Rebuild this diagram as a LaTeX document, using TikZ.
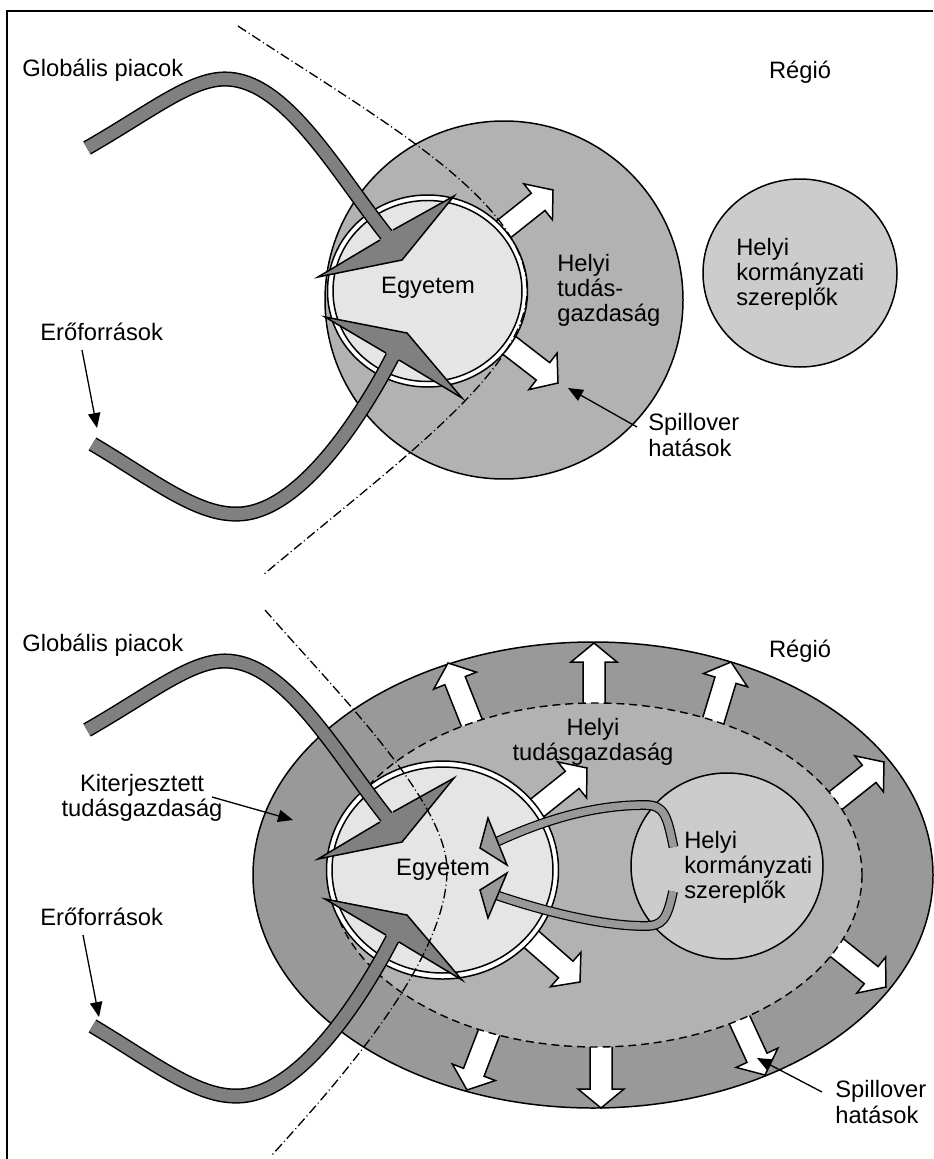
\documentclass[tikz,border=0pt]{standalone}
\usepackage{fontspec}
\setmainfont{Liberation Sans}
\usetikzlibrary{arrows.meta,calc}

\definecolor{regionfill}{gray}{0.70}
\definecolor{outerfill}{gray}{0.60}
\definecolor{innerfill}{gray}{0.70}
\definecolor{govfill}{gray}{0.80}
\definecolor{unifill}{gray}{0.90}
\definecolor{flowfill}{gray}{0.50}
\definecolor{linkfill}{gray}{0.60}

% white block arrow: tip x, tip y, direction angle, total length
\newcommand\spillarrow[4]{%
  \begin{scope}[shift={(#1,#2)}, rotate=#3]
    \draw[spill] (0,0) -- (-19,-23) -- (-19,-11) -- (-#4,-11) -- (-#4,11)
      -- (-19,11) -- (-19,23) -- cycle;
  \end{scope}}

% the two inflow arrows (global markets, resources)
\newcommand\flowarrows{%
  \draw[flowband] (87,148) .. controls (150,112) and (190,79) .. (225,79)
    .. controls (285,79) and (335,170) .. (386.5,235);
  \fill[flowfill] (380,240) -- (318,277) -- (402,260) -- (454,196) -- (393,230) -- cycle;
  \draw[outline] (380,240) -- (318,277) -- (402,260) -- (454,196) -- (393,230);
  \draw[flowband] (92.5,444) .. controls (150,478) and (195,514) .. (235,514)
    .. controls (300,516) and (365,410) .. (392.5,356.5);
  \fill[flowfill] (386,353) -- (325,317) -- (407,333) -- (462,398) -- (399,360) -- cycle;
  \draw[outline] (386,353) -- (325,317) -- (407,333) -- (462,398) -- (399,360);
}

\begin{document}
\begin{tikzpicture}[x=0.02cm, y=-0.02cm,
  txt/.style={inner sep=0pt, font=\fontsize{13.5}{14.4}\selectfont},
  outline/.style={draw=black, line width=0.85pt, line join=miter},
  spill/.style={draw=black, fill=white, line width=0.85pt, line join=miter},
  flowband/.style={draw=black, line width=0.85pt, double=flowfill, double distance=6.9pt},
  linkband/.style={draw=black, line width=0.7pt, double=linkfill, double distance=4.2pt},
  pointer/.style={line width=0.75pt, -{Triangle[length=8.5pt,width=7pt]}},
  boundary/.style={line width=0.75pt, dash pattern=on 5.5pt off 1.8pt on 0.6pt off 1.8pt},
]
\useasboundingbox (0,0) rectangle (933,1159);

% ---------------- upper panel ----------------
\draw[outline, fill=regionfill] (504,300) circle [radius=179];
\draw[outline, fill=govfill] (800,273) ellipse [x radius=97, y radius=94];

\spillarrow{553}{190}{38.5}{90}
\spillarrow{558}{383}{-37.7}{90}

\draw[outline, fill=white] (427.5,291) ellipse [x radius=100, y radius=96];
\draw[outline, fill=unifill] (427.5,291) ellipse [x radius=94.5, y radius=90.5];

\flowarrows

\draw[boundary] (238,26) .. controls (380,120) and (527,200) .. (527,290)
  .. controls (527,370) and (400,460) .. (263,575);

\node[txt, anchor=west] (glob1) at (22,70) {Globális piacok};
\node[txt] (reg1) at (800,72) {Régió};
\node[txt] (uni1) at (428,288) {Egyetem};
\node[txt, anchor=west, align=left] (local1) at (557,290.5) {Helyi\\tudás-\\gazdaság};
\node[txt, anchor=west, align=left] (gov1) at (736,274.5) {Helyi\\kormányzati\\szereplők};
\node[txt, anchor=west] (res1) at (40,332) {Erőforrások};
\node[txt, anchor=west, align=left] (spl1) at (648,435) {Spillover\\hatások};

\coordinate (res1from) at (82,350);
\coordinate (res1to) at (97,428);
\draw[pointer] (res1from) -- (res1to);
\coordinate (spl1from) at (637,427);
\coordinate (spl1to) at (568,388);
\draw[pointer] (spl1from) -- (spl1to);

% ---------------- lower panel ----------------
\draw[outline, fill=outerfill] (593,875) ellipse [x radius=340, y radius=233];

\spillarrow{448}{663}{111.7}{80}
\spillarrow{594}{643}{90}{80}
\spillarrow{731}{662}{73.2}{80}
\spillarrow{884}{762}{38.5}{90}
\spillarrow{886}{987}{-38.7}{90}
\spillarrow{765}{1075}{-65.2}{80}
\spillarrow{601}{1108}{-90}{80}
\spillarrow{467}{1090}{-111}{80}

\fill[innerfill] (596,875) ellipse [x radius=266, y radius=172];
\draw[line width=0.8pt, dash pattern=on 4.5pt off 2.8pt] (596,875) ellipse [x radius=266, y radius=172];

\draw[outline, fill=govfill] (727,866) ellipse [x radius=96, y radius=93];

\spillarrow{587}{768}{38.7}{100}
\spillarrow{580}{982}{-41.3}{100}

\draw[outline, fill=white] (442.5,870) ellipse [x radius=116, y radius=109];
\draw[outline, fill=unifill] (442.5,870) ellipse [x radius=110.5, y radius=103];

\draw[linkband] (673.5,847) .. controls (667,815) and (664,805) .. (645,805)
  .. controls (590,805) and (540,822) .. (497.5,841.5);
\draw[outline, fill=linkfill] (480,848) -- (488,818) -- (507,865) -- cycle;
\draw[linkband] (673,891.5) .. controls (667,920) and (662,926) .. (645,926)
  .. controls (600,926) and (540,910) .. (497.5,895.5);
\draw[outline, fill=linkfill] (480,890) -- (507,873) -- (488,918) -- cycle;

\begin{scope}[shift={(0,582)}]
  \flowarrows
\end{scope}

\draw[boundary] (265,610) .. controls (330,685) and (447,800) .. (447,870)
  .. controls (447,960) and (340,1080) .. (272,1155);

\node[txt, anchor=west] (glob2) at (22,645) {Globális piacok};
\node[txt] (reg2) at (800,651) {Régió};
\node[txt, align=center] (local2) at (593,742) {Helyi\\tudásgazdaság};
\node[txt, align=center] (ext2) at (142,798) {Kiterjesztett\\tudásgazdaság};
\node[txt] (uni2) at (443,870) {Egyetem};
\node[txt, anchor=west, align=left] (gov2) at (684,867.5) {Helyi\\kormányzati\\szereplők};
\node[txt, anchor=west] (res2) at (40,917) {Erőforrások};
\node[txt, anchor=west, align=left] (spl2) at (835,1102) {Spillover\\hatások};

\coordinate (res2from) at (83,935);
\coordinate (res2to) at (99,1017);
\draw[pointer] (res2from) -- (res2to);
\coordinate (ext2from) at (212,797);
\coordinate (ext2to) at (293,820);
\draw[pointer] (ext2from) -- (ext2to);
\coordinate (spl2from) at (822,1092);
\coordinate (spl2to) at (757,1058);
\draw[pointer] (spl2from) -- (spl2to);

% frame
\coordinate (frameBL) at (7,1159);
\coordinate (frameTL) at (7,11);
\coordinate (frameTR) at (933,11);
\draw[line width=1.2pt] (frameBL) -- (frameTL) -- (frameTR);
\end{tikzpicture}
\end{document}
